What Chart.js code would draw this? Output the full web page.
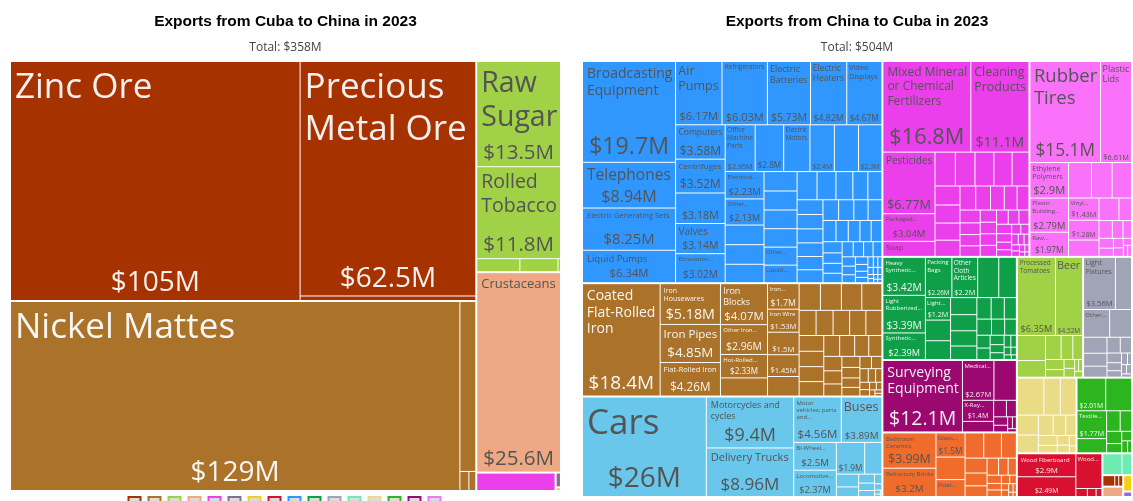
<!DOCTYPE html>
<html><head><meta charset="utf-8">
<script src="https://cdn.jsdelivr.net/npm/chart.js@4.4.0/dist/chart.umd.min.js"></script>
<style>
html,body{margin:0;padding:0;background:#fff;overflow:hidden;width:1133px;height:501px;position:relative}
#c1{position:absolute;left:0;top:0}
#c2{position:absolute;left:566px;top:0}
</style></head><body>
<canvas id="c1" width="566" height="519"></canvas>
<canvas id="c2" width="567" height="501"></canvas>
<script>
// ---------------- DATA (values in US$ millions) ----------------
const cubaTitle = "Exports from Cuba to China in 2023";
const cubaTotal = "Total: $358M";
const chinaTitle = "Exports from China to Cuba in 2023";
const chinaTotal = "Total: $504M";

// Cuba -> China
const cubaMineralNames = ["Zinc Ore", "Precious Metal Ore"];
const cubaMineralValues = [105, 62.5, 1.2];
const cubaMetalNames = ["Nickel Mattes"];
const cubaMetalValues = [129, 4.1, 0.26, 0.2];
const cubaFoodNames = ["Raw Sugar", "Rolled Tobacco"];
const cubaFoodValues = [13.5, 11.8, 0.86, 0.76, 0.05];
const cubaAnimalNames = ["Crustaceans"];
const cubaAnimalValues = [25.6];
const cubaChemicalValues = [2.2];
const cubaPreciousValues = [0.12];
const cubaVegetableValues = [0.03];

// China -> Cuba
const chinaMachineNames = ["Broadcasting Equipment", "Telephones", "Electric Generating Sets", "Liquid Pumps", "Air Pumps", "Refrigerators", "Electric Batteries", "Electric Heaters", "Video Displays", "Computers", "Centrifuges", "Semiconductor Devices", "Valves", "Excavation Machinery", "Office Machine Parts", "", "Electric Motors", "Other Electrical Machinery", null, "Low-voltage Protection Equipment", "Electrical Transformers", "Other Heating Machinery", null, null, null, null, null, null, null, "Other Engines", "Liquid Dispersing Machines"];
const chinaMachineValues = [19.7, 8.94, 8.25, 6.34, 6.17, 6.03, 5.73, 4.82, 4.67, 3.58, 3.52, 3.18, 3.14, 3.02, 2.95, 2.8, 2.58, 2.4, 2.37, 2.3, 2.23, 2.13, 1.6, 1.6, 1.5, 1.35, 1.32, 1.3, 1.28, 1.25, 1.22, 1.18, 1.12, 1.0, 0.89, 0.83, 0.8, 0.78, 0.76, 0.74, 0.72, 0.7, 0.68, 0.66, 0.62, 0.6, 0.58, 0.55, 0.52, 0.5, 0.48, 0.45, 0.42, 0.4, 0.38, 0.35, 0.33, 0.3, 0.28, 0.26, 0.24, 0.22, 0.2, 0.18, 0.16, 0.14, 0.12, 0.1, 0.09, 0.08, 0.07, 0.06, 0.05, 0.05, 0.04, 0.04, 0.03, 0.03];
const chinaMetalNames = ["Coated Flat-Rolled Iron", "Iron Housewares", "Iron Pipes", "Flat-Rolled Iron", "Iron Blocks", "Other Iron Products", "Hot-Rolled Iron", null, "Iron Gas Containers", "Iron Wire", "Cold-Rolled Iron", "", null, null, null, null, null, "Iron Fasteners"];
const chinaMetalValues = [18.4, 5.18, 4.85, 4.26, 4.07, 2.96, 2.33, 1.8, 1.7, 1.53, 1.5, 1.45, 1.3, 1.2, 1.18, 1.15, 1.13, 0.9, 0.9, 0.88, 0.86, 0.85, 0.82, 0.8, 0.78, 0.75, 0.7, 0.66, 0.62, 0.58, 0.55, 0.5, 0.46, 0.42, 0.4, 0.36, 0.33, 0.3, 0.27, 0.24, 0.21, 0.18, 0.15, 0.13, 0.11, 0.09, 0.07, 0.05, 0.04];
const chinaTransportNames = ["Cars", "Motorcycles and cycles", "Delivery Trucks", "Motor vehicles; parts and accessories", "Buses", "Bi-Wheel Vehicle Parts", "Locomotive Parts", ""];
const chinaTransportValues = [26, 9.4, 8.96, 4.56, 3.89, 2.5, 2.37, 1.9, 1.15, 0.6, 0.45, 0.3, 0.25, 0.2, 0.15, 0.1, 0.05, 0.03, 0.02];
const chinaChemicalNames = ["Mixed Mineral or Chemical Fertilizers", "Cleaning Products", "Pesticides", "Packaged Medicaments", "Soap"];
const chinaChemicalValues = [16.8, 11.1, 6.77, 3.04, 1.65, 1.45, 1.4, 1.35, 1.3, 1.2, 1.0, 0.95, 0.9, 0.85, 0.8, 0.75, 0.7, 0.65, 0.6, 0.55, 0.5, 0.48, 0.45, 0.42, 0.4, 0.4, 0.38, 0.35, 0.32, 0.3, 0.3, 0.27, 0.24, 0.21, 0.19, 0.17, 0.15, 0.13, 0.11, 0.1, 0.09, 0.08, 0.06, 0.05, 0.04];
const chinaPlasticNames = ["Rubber Tires", "Plastic Lids", "Ethylene Polymers", "Plastic Building Materials", "Raw Plastic Sheeting", "Other Plastic Sheetings", null, null, "Vinyl Chloride Polymers", "Self-adhesive Plastics"];
const chinaPlasticValues = [15.1, 6.61, 2.9, 2.79, 1.97, 1.72, 1.55, 1.45, 1.43, 1.28, 1.05, 0.95, 0.6, 0.5, 0.4, 0.32, 0.3, 0.25, 0.2, 0.18, 0.12, 0.1, 0.09];
const chinaTextileNames = ["Heavy Synthetic Knit Fabrics", "Light Rubberized Knitted Fabric", "Synthetic Filament Yarn Woven Fabric", "Packing Bags", "Other Cloth Articles", null, null, "Light Mixed Woven Cotton"];
const chinaTextileValues = [3.42, 3.39, 2.39, 2.26, 2.2, 1.8, 1.5, 1.2, 1.1, 1.0, 0.95, 0.9, 0.85, 0.75, 0.65, 0.6, 0.55, 0.5, 0.45, 0.4, 0.36, 0.32, 0.28, 0.24, 0.2, 0.17, 0.14, 0.11, 0.09, 0.07, 0.05];
const chinaInstrumentNames = ["Surveying Equipment", "Medical Instruments", "Utility Meters", "X-Ray Equipment"];
const chinaInstrumentValues = [12.1, 2.67, 1.9, 1.4, 0.7, 0.45, 0.35, 0.25, 0.2, 0.12, 0.1, 0.06];
const chinaStoneNames = ["Bathroom Ceramics", "Refractory Bricks", "Glass Bottles", null, "Float Glass"];
const chinaStoneValues = [3.99, 3.2, 1.5, 1.4, 1.05, 1.0, 0.95, 0.8, 0.7, 0.6, 0.5, 0.42, 0.35, 0.3, 0.25, 0.2, 0.2, 0.15, 0.12, 0.1, 0.1, 0.08, 0.06, 0.04, 0.03];
const chinaFoodNames = ["Processed Tomatoes", "Beer"];
const chinaFoodValues = [6.35, 4.52, 1.5, 1.0, 0.8, 0.6, 0.5, 0.4, 0.3, 0.2, 0.2, 0.1, 0.1, 0.1];
const chinaMiscNames = ["Light Fixtures", null, "Other Furniture", ""];
const chinaMiscValues = [3.56, 1.8, 1.55, 1.3, 0.8, 0.65, 0.55, 0.45, 0.38, 0.3, 0.25, 0.2, 0.15, 0.1, 0.1, 0.1, 0.07];
const chinaPaperNames = [null, null, "Shaped Paper"];
const chinaPaperValues = [2.1, 1.3, 1.25, 0.9, 0.8, 0.65, 0.55, 0.45, 0.4, 0.3, 0.25, 0.2, 0.15, 0.1];
const chinaFootwearNames = ["Rubber Footwear", "", "Textile Footwear"];
const chinaFootwearValues = [2.01, 1.81, 1.77, 0.9, 0.6, 0.5, 0.4, 0.3, 0.2, 0.15, 0.1];
const chinaWoodNames = ["Wood Fiberboard", "Plywood", "Wood Carpentry"];
const chinaWoodValues = [2.9, 2.49, 1.95, 0.2, 0.15, 0.1];
const chinaHideValues = [0.9, 0.45];
const chinaMineralValues = [0.3, 0.1, 0.1];
const chinaAnimalValues = [0.45];
const chinaVegetableValues = [0.3];
const chinaArtValues = [0.1];

// sector legend categories (left chart)
const legendSectors = ["Mineral Products", "Metals", "Foodstuffs", "Animal Products", "Chemical Products", "Precious Metals", "Vegetable Products", "Wood Products", "Machines", "Textiles", "Miscellaneous", "Animal Hides", "Paper Goods", "Footwear and Headwear", "Instruments", "Plastics and Rubbers"];

// ---------------- STYLES ----------------
const sectorColors = {
  "Mineral Products": "#A63200", "Metals": "#AB722A", "Foodstuffs": "#A0D147",
  "Animal Products": "#EEA984", "Chemical Products": "#EA3FEA", "Precious Metals": "#847191",
  "Vegetable Products": "#F3D016", "Wood Products": "#DA1031", "Machines": "#2F97FF",
  "Textiles": "#0E9F48", "Miscellaneous": "#A1A3B6", "Animal Hides": "#6EEBB0",
  "Paper Goods": "#EADB86", "Footwear and Headwear": "#2DB520", "Instruments": "#9A0870",
  "Plastics and Rubbers": "#FA72FA", "Transportation": "#69C7EC", "Stone and Glass": "#F06C2C",
  "Arts and Antiques": "#9868E0"
};
const whiteTextSectors = ["Mineral Products", "Metals", "Textiles", "Instruments", "Wood Products", "Footwear and Headwear", "Precious Metals"];
const FONT = '"Open Sans", "Noto Sans", sans-serif';
const NAME_MAX = 35;

function grp(sector, names, values) { return { sector, names: names || [], values }; }
const cubaGroups = [
  grp("Mineral Products", cubaMineralNames, cubaMineralValues),
  grp("Metals", cubaMetalNames, cubaMetalValues),
  grp("Foodstuffs", cubaFoodNames, cubaFoodValues),
  grp("Animal Products", cubaAnimalNames, cubaAnimalValues),
  grp("Chemical Products", null, cubaChemicalValues),
  grp("Precious Metals", null, cubaPreciousValues),
  grp("Vegetable Products", null, cubaVegetableValues)
];
const chinaGroups = [
  grp("Machines", chinaMachineNames, chinaMachineValues),
  grp("Metals", chinaMetalNames, chinaMetalValues),
  grp("Transportation", chinaTransportNames, chinaTransportValues),
  grp("Chemical Products", chinaChemicalNames, chinaChemicalValues),
  grp("Plastics and Rubbers", chinaPlasticNames, chinaPlasticValues),
  grp("Textiles", chinaTextileNames, chinaTextileValues),
  grp("Instruments", chinaInstrumentNames, chinaInstrumentValues),
  grp("Stone and Glass", chinaStoneNames, chinaStoneValues),
  grp("Foodstuffs", chinaFoodNames, chinaFoodValues),
  grp("Miscellaneous", chinaMiscNames, chinaMiscValues),
  grp("Paper Goods", chinaPaperNames, chinaPaperValues),
  grp("Footwear and Headwear", chinaFootwearNames, chinaFootwearValues),
  grp("Wood Products", chinaWoodNames, chinaWoodValues),
  grp("Animal Hides", null, chinaHideValues),
  grp("Mineral Products", null, chinaMineralValues),
  grp("Animal Products", null, chinaAnimalValues),
  grp("Vegetable Products", null, chinaVegetableValues),
  grp("Arts and Antiques", null, chinaArtValues)
];

// ---------------- squarified treemap (d3 algorithm) ----------------
const PHI = (1 + Math.sqrt(5)) / 2;
function squarify(nodes, x0, y0, x1, y1) {
  let value = nodes.reduce((s, n) => s + n.value, 0);
  let i0 = 0, i1 = 0; const n = nodes.length;
  while (i0 < n) {
    const dx = x1 - x0, dy = y1 - y0;
    let sumValue;
    do sumValue = nodes[i1++].value; while (!sumValue && i1 < n);
    let minValue = sumValue, maxValue = sumValue;
    const alpha = Math.max(dy / dx, dx / dy) / (value * PHI);
    let beta = sumValue * sumValue * alpha;
    let minRatio = Math.max(maxValue / beta, beta / minValue);
    for (; i1 < n; ++i1) {
      const nv = nodes[i1].value;
      sumValue += nv;
      if (nv < minValue) minValue = nv;
      if (nv > maxValue) maxValue = nv;
      beta = sumValue * sumValue * alpha;
      const newRatio = Math.max(maxValue / beta, beta / minValue);
      if (newRatio > minRatio) { sumValue -= nv; break; }
      minRatio = newRatio;
    }
    const row = nodes.slice(i0, i1);
    if (dx < dy) {
      const ny = value ? y0 + dy * sumValue / value : y1;
      const k = (x1 - x0) / sumValue; let x = x0;
      row.forEach(nd => { nd.x0 = x; x += nd.value * k; nd.x1 = x; nd.y0 = y0; nd.y1 = ny; });
      y0 = ny;
    } else {
      const nx = value ? x0 + dx * sumValue / value : x1;
      const k = (y1 - y0) / sumValue; let y = y0;
      row.forEach(nd => { nd.y0 = y; y += nd.value * k; nd.y1 = y; nd.x0 = x0; nd.x1 = nx; });
      x0 = nx;
    }
    value -= sumValue; i0 = i1;
  }
}

function fmtValue(v) {
  let s;
  if (v >= 100) s = v.toFixed(0);
  else if (v >= 10) s = String(parseFloat(v.toFixed(1)));
  else s = String(parseFloat(v.toFixed(2)));
  return "$" + s + "M";
}

function wrapAll(ctx, text, maxW) {
  const words = text.split(" ");
  const lines = []; let cur = "";
  for (const w of words) {
    const t = cur ? cur + " " + w : w;
    if (!cur || ctx.measureText(t).width <= maxW) cur = t;
    else { lines.push(cur); cur = w; }
  }
  if (cur) lines.push(cur);
  return lines;
}

function fitAt(ctx, name, s, maxW, availH) {
  if (s * 1.2 > availH) return null;
  ctx.font = s + "px " + FONT;
  const ls = wrapAll(ctx, name, maxW);
  if (ls.every(x => ctx.measureText(x).width <= maxW) && ls.length * s * 1.2 <= availH) return ls;
  return null;
}

function drawLabel(ctx, c, l, t, r, b, color) {
  if (c.name === undefined || c.name === null) return;
  const w = r - l, h = b - t;
  const pad = Math.max(1.2, Math.min(4, w * 0.05));
  const maxW = w - pad - Math.min(pad, 2);
  if (maxW < 6 || h < 7) return;
  const valText = fmtValue(c.value);
  ctx.font = "100px " + FONT;
  const v100 = ctx.measureText(valText).width / 100;
  let vs = Math.min(28, (w - 2 * pad) * 0.95 / v100, h * 0.36);
  const showVal = vs >= 6.3;
  const valBlock = showVal ? vs * 1.2 : 0;
  let lines = null, ns = 0;
  if (c.name) {
    const availH = h - pad - valBlock - 2;
    for (let s = NAME_MAX; s >= 6; s -= 0.5) {
      const ls = fitAt(ctx, c.name, s, maxW, availH);
      if (ls) { lines = ls; ns = s; break; }
    }
    if (lines && lines.length > 1) {
      for (let s = ns - 0.5; s >= ns * 0.93; s -= 0.5) {
        const ls = fitAt(ctx, c.name, s, maxW, availH);
        if (ls && ls.length < lines.length) { lines = ls; ns = s; break; }
      }
    }
    if (!lines && availH >= 7.2) {
      ns = 6; ctx.font = ns + "px " + FONT;
      const ls = wrapAll(ctx, c.name, maxW);
      let firstOver = ls.findIndex(x => ctx.measureText(x).width > maxW);
      if (firstOver < 0) firstOver = ls.length;
      const nmax = Math.min(Math.floor(availH / (ns * 1.2)), firstOver, ls.length);
      if (nmax >= 1) {
        const out = ls.slice(0, nmax);
        let last = out[nmax - 1].split(" ");
        let txt = last.join(" ") + "...";
        while (ctx.measureText(txt).width > maxW && last.length > 1) { last.pop(); txt = last.join(" ") + "..."; }
        if (ctx.measureText(txt).width <= maxW) { out[nmax - 1] = txt; lines = out; }
      }
    }
  }
  if (!lines && !showVal) return;
  ctx.save();
  ctx.beginPath(); ctx.rect(l, t, w, h); ctx.clip();
  ctx.fillStyle = color;
  if (lines) {
    ctx.font = ns + "px " + FONT;
    ctx.textAlign = "left"; ctx.textBaseline = "alphabetic";
    lines.forEach((ln, i) => ctx.fillText(ln, l + pad, t + pad * 0.5 + ns * 0.98 + i * ns * 1.2));
  }
  if (showVal) {
    ctx.font = vs + "px " + FONT;
    ctx.textAlign = "center"; ctx.textBaseline = "alphabetic";
    ctx.fillText(valText, (l + r) / 2, b - (pad * 0.6 + vs * 0.22));
  }
  ctx.restore();
}

const treemapPlugin = {
  id: "treemap",
  afterDatasetsDraw(chart, args, opts) {
    const ctx = chart.ctx, xs = chart.scales.x, ys = chart.scales.y;
    const W = chart.chartArea.right - chart.chartArea.left;
    const H = chart.chartArea.bottom - chart.chartArea.top;
    const tops = opts.groups.map(g => {
      const kids = g.values.map((v, i) => ({ value: v, name: g.names[i], sector: g.sector }));
      kids.sort((a, b) => b.value - a.value);
      return { sector: g.sector, value: kids.reduce((s, k) => s + k.value, 0), children: kids };
    });
    tops.sort((a, b) => b.value - a.value);
    squarify(tops, 0, 0, W, H);
    const px = v => xs.getPixelForValue(v / W);
    const py = v => ys.getPixelForValue(v / H);
    tops.forEach(g => {
      squarify(g.children, g.x0 + 0.5, g.y0 + 0.5, g.x1 - 0.5, g.y1 - 0.5);
      const fill = sectorColors[g.sector];
      const tc = whiteTextSectors.includes(g.sector) ? "rgba(255,255,255,0.93)" : "#545454";
      g.children.forEach(c => {
        const l = px(c.x0) + 0.5, r = px(c.x1) - 0.5, t = py(c.y0) + 0.5, b = py(c.y1) - 0.5;
        if (r <= l || b <= t) return;
        ctx.fillStyle = fill;
        ctx.fillRect(l, t, r - l, b - t);
        drawLabel(ctx, c, l, t, r, b, tc);
      });
    });
  }
};

function makeChart(id, title, subtitle, groups, padding, withLegend) {
  return new Chart(document.getElementById(id), {
    type: "scatter",
    data: { datasets: [{ data: [] }] },
    options: {
      responsive: false, animation: false, events: [],
      layout: { padding },
      scales: {
        x: { type: "linear", min: 0, max: 1, display: false },
        y: { type: "linear", min: 0, max: 1, reverse: true, display: false }
      },
      plugins: {
        title: { display: true, text: title, color: "#000",
          font: { family: '"Liberation Sans", Arial, sans-serif', size: 15.5, weight: "bold" },
          padding: { top: 12, bottom: 10 } },
        subtitle: { display: true, text: subtitle, color: "#444",
          font: { family: FONT, size: 12 }, padding: { top: 0, bottom: 6 } },
        legend: withLegend ? {
          display: true, position: "bottom", align: "center",
          labels: { boxWidth: 12, boxHeight: 12, padding: 6, font: { size: 4 },
            generateLabels: () => legendSectors.map(s => ({ text: "", fillStyle: "#dcdcdc", strokeStyle: sectorColors[s], lineWidth: 2, hidden: false })) }
        } : { display: false },
        tooltip: { enabled: false },
        treemap: { groups }
      }
    },
    plugins: [treemapPlugin]
  });
}

makeChart("c1", cubaTitle, cubaTotal, cubaGroups, { left: 10, right: 5, top: 0, bottom: 0 }, true);
makeChart("c2", chinaTitle, chinaTotal, chinaGroups, { left: 16, right: 1, top: 0, bottom: 4 }, false);
</script>
</body></html>
